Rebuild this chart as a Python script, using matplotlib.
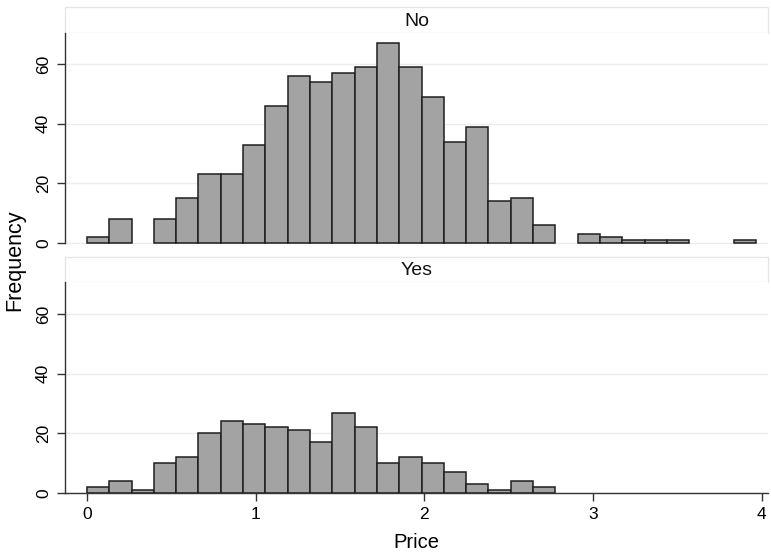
import numpy as np
import matplotlib
matplotlib.use("Agg")
import matplotlib.pyplot as plt
from matplotlib.patches import Rectangle

plt.rcParams['font.family'] = ['Liberation Sans', 'DejaVu Sans']

bin_width = 0.1322
bin_start = 0.0
groups = ["No", "Yes"]
counts_no = [2, 8, 0, 8, 15, 23, 23, 33, 46, 56, 54, 57, 59, 67, 59, 49, 34, 39,
             14, 15, 6, 0, 3, 2, 1, 1, 1, 0, 0, 1]
counts_yes = [2, 4, 1, 10, 12, 20, 24, 23, 22, 21, 17, 27, 22, 10, 12, 10, 7, 3,
              1, 4, 2]
x_ticks = [0, 1, 2, 3, 4]
y_ticks = [0, 20, 40, 60]

W, H = 771, 553
fig = plt.figure(figsize=(W / 100, H / 100), dpi=100)


def px_axes(left, top, right, bottom):
    return fig.add_axes([left / W, 1 - bottom / H, (right - left) / W, (bottom - top) / H])


panels = [
    (counts_no, 7, 33, 257, (-4.7, 70.4), False),
    (counts_yes, 257, 282, 493, (0, 70.8), True),
]

for name, (counts, strip_top, top, bottom, ylim, show_x) in zip(groups, panels):
    # strip label
    sax = px_axes(65, strip_top, 768, top)
    sax.set_xlim(0, 1)
    sax.set_ylim(0, 1)
    sax.axis("off")
    sax.add_patch(Rectangle((0, 0), 1, 1, facecolor="white", edgecolor="#e4e4e4",
                            linewidth=0.9, transform=sax.transAxes, clip_on=False))
    sax.text(0.5, 0.45, name, ha="center", va="center", fontsize=14, color="#111111")

    ax = px_axes(65, top, 768, bottom)
    counts = np.array(counts)
    edges = bin_start + bin_width * np.arange(len(counts))
    keep = counts > 0
    ax.bar(edges[keep], counts[keep], width=bin_width, align="edge", color="#a3a3a3",
           edgecolor="#1e1e1e", linewidth=1.1, zorder=3)
    ax.set_xlim(-0.130, 4.036)
    ax.set_ylim(*ylim)
    ax.set_yticks(y_ticks)
    ax.set_yticklabels([str(t) for t in y_ticks], rotation=90, va="center", fontsize=12.5)
    ax.grid(axis="y", color="#ececec", linewidth=1.0, zorder=0)
    for s in ["top", "right"]:
        ax.spines[s].set_visible(False)
    ax.spines["left"].set_color("#333333")
    ax.spines["left"].set_linewidth(1.0)
    ax.spines["left"].set_bounds(0, ylim[1])
    ax.tick_params(axis="y", length=6, width=1.0, color="#333333", pad=4)
    if show_x:
        ax.spines["bottom"].set_color("#333333")
        ax.spines["bottom"].set_linewidth(1.0)
        ax.set_xticks(x_ticks)
        ax.set_xticklabels([str(t) for t in x_ticks], fontsize=12.5)
        ax.tick_params(axis="x", length=6, width=1.0, color="#333333", pad=4)
        ax.set_xlabel("Price", fontsize=14.5, labelpad=8)
    else:
        ax.spines["bottom"].set_visible(False)
        ax.set_xticks([])

fig.text(15 / W, 1 - 260 / H, "Frequency", rotation=90, ha="center", va="center",
         fontsize=15.5)

fig.savefig("out.png", dpi=100)
